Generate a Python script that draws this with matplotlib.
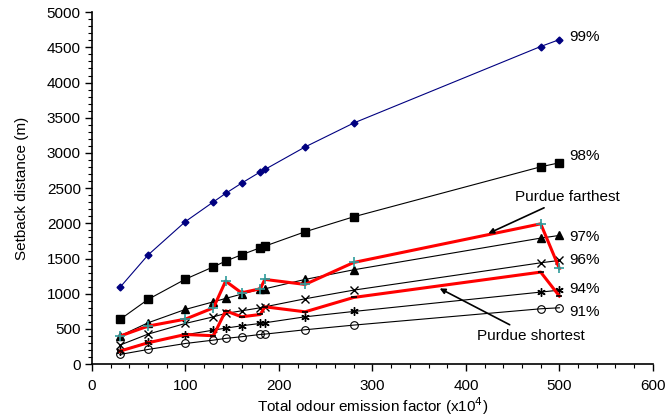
import matplotlib
matplotlib.use("Agg")
import matplotlib.pyplot as plt
from matplotlib.ticker import MultipleLocator

plt.rcParams['font.family'] = ['Liberation Sans', 'DejaVu Sans']

x = [30, 60, 100, 130, 143, 160, 180, 185, 228, 280, 480, 500]
p99 = [1090, 1550, 2025, 2305, 2425, 2570, 2730, 2765, 3085, 3425, 4512, 4610]
p98 = [634, 919, 1207, 1383, 1463, 1553, 1653, 1676, 1880, 2093, 2803, 2860]
p97 = [400, 587, 777, 885, 933, 994, 1065, 1070, 1203, 1340, 1790, 1828]
p96 = [270, 426, 578, 672, 720, 757, 800, 814, 928, 1051, 1439, 1473]
p94 = [189, 308, 417, 483, 511, 544, 578, 587, 672, 748, 1023, 1051]
p91 = [137, 208, 293, 341, 365, 389, 421, 426, 488, 554, 786, 800]
far = [398, 540, 639, 800, 1179, 1013, 1070, 1203, 1132, 1444, 1993, 1359]
short = [185, 303, 421, 403, 757, 672, 705, 814, 743, 947, 1307, 966]

labels = ['99%', '98%', '97%', '96%', '94%', '91%']
label_y = [4640, 2955, 1808, 1477, 1061, 739]

fig = plt.figure(figsize=(6.71, 4.19), dpi=100)
ax = fig.add_axes([0.137, 0.131, 0.836, 0.840])

ax.plot(x, p99, color='#000080', lw=0.8, marker='D', ms=3.5, mfc='#000080', mec='#000080')
ax.plot(x, p98, color='black', lw=0.8, marker='s', ms=5.5)
ax.plot(x, p97, color='black', lw=0.8, marker='^', ms=5.5)
ax.plot(x, p96, color='black', lw=0.8, marker='x', ms=5.5, mew=1)
ax.plot(x, p94, color='black', lw=0.8, marker=(6, 2, 0), ms=6, mew=1)
ax.plot(x, p91, color='black', lw=0.8, marker='o', ms=5.5, mfc='none', mew=0.8)
ax.plot(x, far, color='#ff0000', lw=2.2, marker='+', ms=7, mec='#2e9c9c', mew=1.2)
ax.plot(x, short, color='#ff0000', lw=2.2, marker='_', ms=5, mec='black', mew=1.2)

for lab, ly in zip(labels, label_y):
    ax.text(511, ly, lab, fontsize=11, va='center', ha='left')

ax.annotate('Purdue farthest', xy=(424, 1856), xytext=(453, 2376),
            fontsize=11, va='center', ha='left',
            arrowprops=dict(arrowstyle='-|>', color='black', lw=1.2,
                            mutation_scale=8, shrinkA=2, shrinkB=0))
ax.annotate('Purdue shortest', xy=(372, 1075), xytext=(412, 402),
            fontsize=11, va='center', ha='left',
            arrowprops=dict(arrowstyle='-|>', color='black', lw=1.2,
                            mutation_scale=8, shrinkA=2, shrinkB=0))

ax.set_xlim(0, 600)
ax.set_ylim(0, 5000)
ax.xaxis.set_major_locator(MultipleLocator(100))
ax.xaxis.set_minor_locator(MultipleLocator(20))
ax.yaxis.set_major_locator(MultipleLocator(500))
ax.yaxis.set_minor_locator(MultipleLocator(100))
ax.tick_params(which='major', length=5, width=1, labelsize=11, direction='out', pad=3)
ax.tick_params(which='minor', length=3, width=0.8, direction='out')
ax.tick_params(axis='x', which='major', pad=6)
ax.spines['top'].set_visible(False)
ax.spines['right'].set_visible(False)
ax.spines['left'].set_linewidth(1.2)
ax.spines['bottom'].set_linewidth(1.2)

ax.set_xlabel('Total odour emission factor (x10$^4$)', fontsize=11)
ax.set_ylabel('Setback distance (m)', fontsize=11)
ax.yaxis.set_label_coords(-0.113, 0.5)
ax.xaxis.set_label_coords(0.5, -0.09)

fig.savefig('out.png', dpi=100)
